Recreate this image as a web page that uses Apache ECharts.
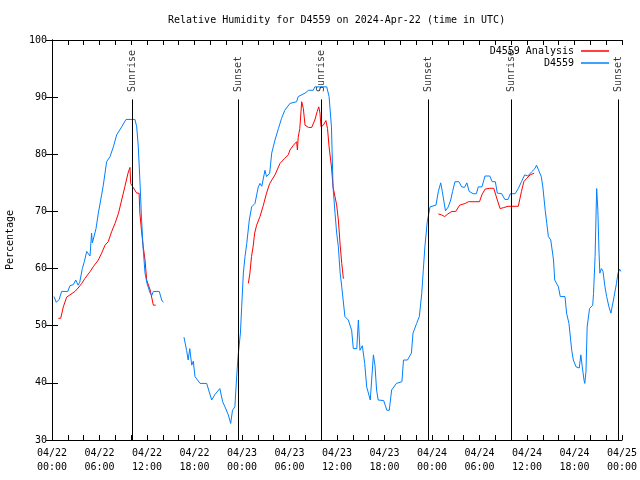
<!DOCTYPE html>
<html>
<head>
<meta charset="utf-8">
<script src="https://cdn.jsdelivr.net/npm/echarts@6/dist/echarts.min.js"></script>
<style>html,body{margin:0;padding:0;background:#fff}#c{width:640px;height:480px}</style>
</head>
<body>
<div id="c"></div>
<script>
// Time in hours since 04/22 00:00 UTC; null value = gap in record
const obsTimes = [0.25,0.55,0.9,1.22,2.0,2.27,2.7,3.0,3.3,3.5,3.83,4.08,4.38,4.6,4.8,5.0,5.1,5.3,5.56,5.85,6.27,6.48,6.9,7.33,7.75,8.17,8.8,9.35,10.48,10.7,10.9,11.1,11.3,11.5,11.75,12.0,12.4,12.6,12.8,13.55,13.85,14.06,
  15.3,
  16.67,17.0,17.2,17.4,17.65,17.85,18.06,18.7,19.54,20.17,20.6,21.2,21.56,21.85,22.27,22.57,22.8,23.1,23.3,23.5,23.8,23.96,24.17,24.38,24.6,24.92,25.22,25.64,26.06,26.27,26.5,26.9,27.1,27.5,27.75,28.17,28.6,29.0,29.4,30.06,30.9,31.1,31.96,32.4,33.0,33.2,34.7,35.0,35.3,35.5,35.75,35.96,36.17,36.4,36.6,37.0,37.43,37.85,38.06,38.5,38.7,38.9,39.2,39.5,39.75,40.2,40.6,40.8,41.0,41.2,41.9,42.3,42.6,42.9,43.5,44.2,44.4,44.9,45.4,45.6,46.06,46.4,46.7,46.9,47.1,47.4,47.75,47.96,48.5,48.8,49.1,49.3,49.7,50.06,50.36,50.6,50.9,51.4,51.75,52.1,52.4,52.7,53.2,53.6,53.85,54.3,54.7,55.3,55.6,56.0,56.25,56.8,57.2,57.6,57.9,58.5,58.9,59.3,59.7,60.1,60.6,61.0,61.2,61.45,61.8,62.0,62.3,62.5,62.7,63.0,63.35,63.5,63.97,64.2,64.8,65.0,65.3,65.65,65.85,66.2,66.6,66.8,67.0,67.2,67.3,67.45,67.6,67.9,68.3,68.4,68.6,68.8,68.95,69.1,69.2,69.4,69.6,69.85,70.06,70.35,70.6,70.8,71.0,71.3,71.5,71.7,71.85];
const obsValues = [55.1,54.1,54.6,56,56,57,57.2,58,57.1,57.6,60,61.2,63,63.1,62.2,66.2,64.5,64.2,67,69.7,72.9,74.6,78.7,79.6,81.3,83.4,84.8,86.1,86.1,84.8,81.3,75.5,69,63.8,59.2,57.4,55.7,55.3,56,56,54.5,54.1,
  null,
  48,45.7,44,46,43.1,43.8,41.1,39.9,39.9,37,38,39,36.7,35.8,34.4,32.9,35.2,35.8,40.5,44.6,48.7,53.3,59.2,62.1,64.4,68.5,70.8,71.4,74.3,74.9,74.4,77.2,76.1,76.7,80.2,82.5,84.5,86.3,87.7,88.9,89.2,90.1,90.7,91.2,91.2,91.8,91.8,90.1,84.8,74.3,69.7,66.2,63.8,59.2,56.8,51.6,51,49.2,46,46,51,45.7,46.5,43.4,39.3,37,44.9,43,38.75,37,36.9,35.2,35.2,38.75,39.9,40.2,44,44,45.2,48.7,50.4,51.6,55.6,59.7,63.8,68.2,70.8,71.1,71.1,73.5,75,73.5,70.1,70.8,72,73.5,75.2,75.2,74.3,74.2,75,73.5,73.1,73.1,74.3,74.3,76.2,76.2,75.2,75.2,73.2,73.1,72.1,72.1,73.1,73.1,74,75.2,76.4,76.2,76.95,77.5,78.1,77.9,76.1,74.3,70.2,67.9,65.6,65,61.5,58,56.8,55.1,55.1,52.2,50.4,45.7,44,42.8,42.6,44.9,42.6,40.5,39.9,42,49.8,53,53.6,55.6,62.1,74,70.2,62.7,59.2,60,59.5,56.8,55.1,53.3,52.2,52.2,55.1,57.4,59.2,59.9,59.5];

const anaTimes = [0.8,1.1,1.43,1.85,2.27,2.9,3.3,3.75,4.17,4.8,5.2,5.85,6.27,6.7,7.1,7.54,7.96,8.4,8.8,9.2,9.6,9.85,9.94,10.2,10.7,11.0,11.1,11.3,11.5,11.75,11.96,12.4,12.8,13.1,
  18,
  24.8,25.0,25.2,25.4,25.6,25.85,26.27,26.7,27.1,27.5,28.17,28.8,29.4,29.85,30.06,30.5,30.9,31.0,31.1,31.3,31.54,31.75,31.96,32.4,32.8,33.2,33.5,33.7,33.85,33.98,34.27,34.6,34.8,35.0,35.3,35.5,35.96,36.17,36.4,36.6,36.8,36.9,
  42,
  48.8,49.2,49.6,50.0,50.5,51.0,51.5,52.2,52.6,54.0,54.3,54.7,55.3,55.8,56.25,56.6,57.0,57.6,58.9,59.3,59.6,59.96,60.4,60.6,60.9];
const anaValues = [51.3,51.3,53.3,55,55.4,56,56.6,57.4,58.3,59.45,60.3,61.5,62.7,64.1,64.7,66.5,67.9,69.7,72,74.3,76.7,77.7,74.9,74.3,73.2,73.2,69.7,66.7,64.1,61.5,58,56.25,53.6,53.6,
  null,
  57.4,59.2,62.1,63.8,66.2,67.6,69.1,71.1,73.2,74.9,76.4,78.4,79.3,79.9,80.75,81.6,82.2,80.75,83,84.5,89.2,88,85.1,84.7,84.7,86,87.5,88.3,87.2,84.8,85.1,85.9,84.5,81.3,77.8,74.3,71.1,68.5,64.1,60.9,58.3,58.3,
  null,
  69.55,69.4,69.1,69.55,70,70,71.1,71.4,71.7,71.7,72.9,73.9,74.05,74.05,72,70.5,70.65,70.9,70.9,73.5,75.2,75.8,76.4,76.7,76.7];

const eventTimes = [10.1, 23.55, 34.05, 47.55, 58.0, 71.55];
const eventNames = ['Sunrise','Sunset','Sunrise','Sunset','Sunrise','Sunset'];
const yTicks = [30,40,50,60,70,80,90,100];

const FONT = 'DejaVu Sans Mono';
function pairs(ts, vs){ return ts.map((t,i)=> vs[i]==null ? [t,'-'] : [t, vs[i]]); }
function xLabel(v){
  if (v % 6 !== 0) return '';
  const day = 22 + Math.floor(v/24);
  const hh = v % 24;
  return '04/' + day + '\n' + (hh<10?'0':'') + hh + ':00';
}

const chart = echarts.init(document.getElementById('c'), null, {renderer:'canvas'});
const axisLine = {show:true, lineStyle:{color:'#000', width:1}};
chart.setOption({
  animation:false,
  backgroundColor:'#fff',
  title:{text:'Relative Humidity for D4559 on 2024-Apr-22 (time in UTC)', left:168, top:15, padding:0,
    textStyle:{fontFamily:FONT, fontSize:10, fontWeight:'normal', color:'#000'}},
  legend:{data:['D4559 Analysis','D4559'], orient:'vertical', right:31, top:46, align:'right', padding:0,
    icon:'rect', itemWidth:28, itemHeight:1.5, itemGap:2,
    textStyle:{fontFamily:FONT, fontSize:10, color:'#000', padding:[0,2,0,0]}},
  grid:{left:52, right:18, top:40, bottom:40, containLabel:false, outerBoundsMode:'none'},
  xAxis:[
    {type:'value', min:0, max:72, interval:2, position:'bottom', axisLine,
     axisTick:{show:true, inside:true, length:5, lineStyle:{color:'#000'}},
     axisLabel:{formatter:xLabel, fontFamily:FONT, fontSize:10, color:'#000', lineHeight:14, margin:6, showMinLabel:true, showMaxLabel:true},
     splitLine:{show:false}},
    {type:'value', min:0, max:72, interval:2, position:'top', axisLine,
     axisTick:{show:true, inside:true, length:5, lineStyle:{color:'#000'}},
     axisLabel:{show:false}, splitLine:{show:false}}
  ],
  yAxis:[
    {type:'value', min:yTicks[0], max:yTicks[yTicks.length-1], interval:10, position:'left', axisLine,
     name:'Percentage', nameLocation:'middle', nameGap:37, nameRotate:90,
     nameTextStyle:{fontFamily:FONT, fontSize:10, color:'#000'},
     axisTick:{show:true, inside:true, length:6, lineStyle:{color:'#000'}},
     axisLabel:{fontFamily:FONT, fontSize:10, color:'#000', margin:5},
     splitLine:{show:false}},
    {type:'value', min:yTicks[0], max:yTicks[yTicks.length-1], interval:10, position:'right', axisLine,
     axisTick:{show:true, inside:true, length:6, lineStyle:{color:'#000'}},
     axisLabel:{show:false}, splitLine:{show:false}}
  ],
  series:[
    {name:'D4559 Analysis', type:'line', data:pairs(anaTimes, anaValues), showSymbol:false, symbol:'none',
     color:'#ff0000', lineStyle:{color:'#ff0000', width:1}, connectNulls:false, z:2},
    {name:'D4559', type:'line', data:pairs(obsTimes, obsValues), showSymbol:false, symbol:'none',
     color:'#0080ff', lineStyle:{color:'#0080ff', width:1}, connectNulls:false, z:3},
    {name:'events', type:'scatter', data:eventTimes.map(t=>[t, 90.9]), symbolSize:0, silent:true, z:4,
     label:{show:true, formatter:p=>eventNames[p.dataIndex], rotate:90, position:[0,0], align:'left', verticalAlign:'middle',
       fontFamily:FONT, fontSize:10, color:'#000'},
     markLine:{silent:true, symbol:['none','none'], label:{show:false},
       lineStyle:{color:'#000', width:1, type:'solid'},
       data:eventTimes.map(t=>[{coord:[t,30]},{coord:[t,89.6]}])}}
  ]
});
</script>
</body>
</html>
